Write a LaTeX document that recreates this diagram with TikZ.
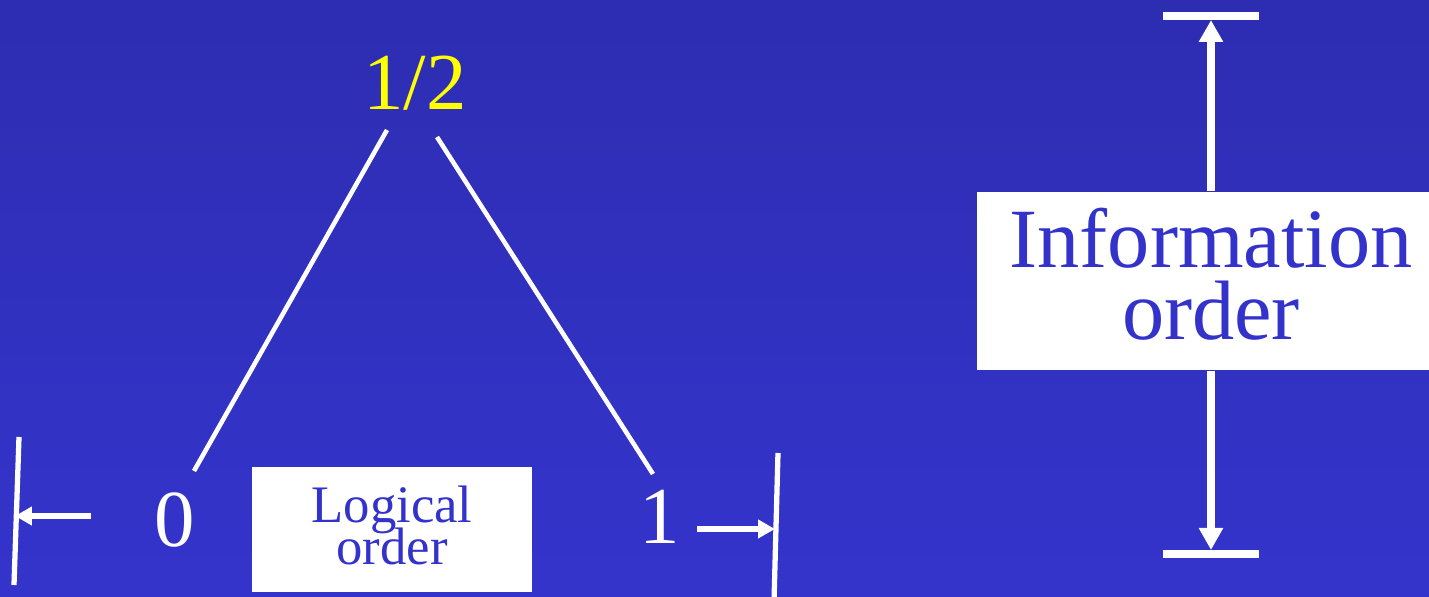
\documentclass[tikz,border=0pt]{standalone}
\usepackage{fontspec}
\setmainfont{Liberation Serif}
\usetikzlibrary{arrows.meta}
\usetikzlibrary{calc}

\definecolor{slidetop}{RGB}{45,45,178}
\definecolor{slidebot}{RGB}{52,52,204}
\definecolor{boxtext}{RGB}{51,51,204}
\definecolor{halfyellow}{RGB}{255,255,0}

\newcommand\tightlines{\lineskiplimit -20pt\relax}

\begin{document}
\begin{tikzpicture}[
        x=0.1mm, y=0.1mm,
        digit/.style={text=white, font=\fontsize{23}{27}\selectfont,
            inner sep=0pt, anchor=base},
        orderbox/.style={fill=white, text=boxtext, align=center, inner sep=0pt},
        edge/.style={draw=white, line width=1.3pt},
        bound/.style={draw=white, line width=1.5pt},
        endbar/.style={draw=white, line width=2.3pt},
        axis/.style={draw=white, line width=1.7pt,
            -{Triangle[length=1.7mm,width=1.8mm]}},
        bigaxis/.style={draw=white, line width=2pt,
            -{Triangle[length=2.2mm,width=2.3mm]}}
    ]

    \shade[top color=slidetop, bottom color=slidebot] (0,0) rectangle (1429,597);
    \useasboundingbox (0,0) rectangle (1429,597);

    % lattice of truth values
    \node[digit, text=halfyellow] (half) at (415,487) {1/2};
    \node[digit] (zero) at (175,50) {0};
    \node[digit] (one)  at (660,53) {1};

    \coordinate (halfL) at (387,467);
    \coordinate (zeroT) at (194,126);
    \coordinate (halfR) at (437,460);
    \coordinate (oneT)  at (653,123);

    \draw[edge] (halfL) -- (zeroT);
    \draw[edge] (halfR) -- (oneT);

    % logical order
    \node[orderbox, minimum width=2.8cm, minimum height=1.25cm, text depth=0.09cm,
        font=\fontsize{15}{12}\selectfont\tightlines]
        (logic) at (392,67.5) {Logical\\order};

    \coordinate (lbT) at (19,160);
    \coordinate (lbB) at (14,12);
    \coordinate (rbT) at (778,144);
    \coordinate (rbB) at (774,-5);

    \draw[bound] (lbT) -- (lbB);
    \draw[bound] (rbT) -- (rbB);

    \coordinate (lTail) at (91,81);
    \coordinate (lTip)  at (15,81);
    \coordinate (rTail) at (697,68);
    \coordinate (rTip)  at (775,68);

    \draw[axis] (lTail) -- (lTip);
    \draw[axis] (rTail) -- (rTip);

    % information order
    \node[orderbox, minimum width=4.68cm, minimum height=1.78cm, text depth=0.14cm,
        font=\fontsize{24}{20.5}\selectfont\tightlines]
        (info) at (1211,316) {Information\\order};

    \coordinate (infoTop) at (1211,577);
    \coordinate (infoBot) at (1211,47);

    \draw[endbar] (1163,581) -- (1259,581);
    \draw[endbar] (1163,43) -- (1259,43);

    \draw[bigaxis] (info.north) -- (infoTop);
    \draw[bigaxis] (info.south) -- (infoBot);

\end{tikzpicture}
\end{document}
